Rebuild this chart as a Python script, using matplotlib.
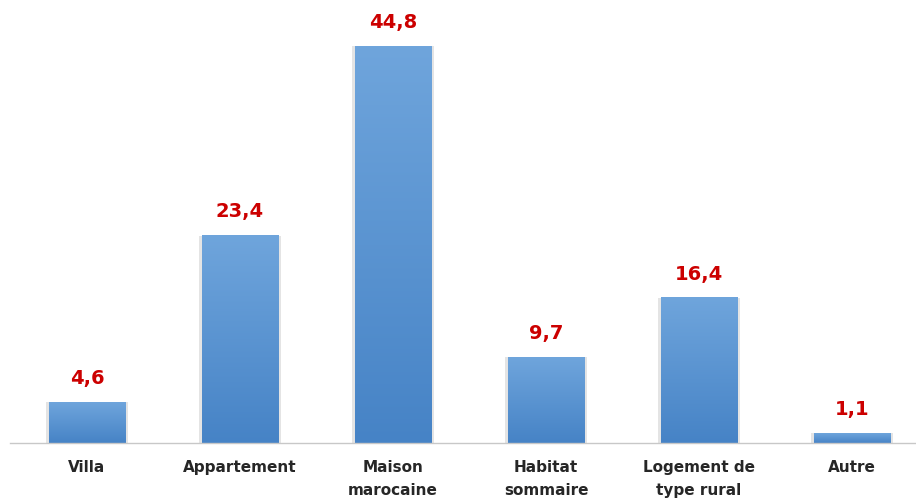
import matplotlib.pyplot as plt
import numpy as np
from matplotlib.colors import LinearSegmentedColormap

categories = ["Villa", "Appartement", "Maison\nmarocaine", "Habitat\nsommaire",
              "Logement de\ntype rural", "Autre"]
values = [4.6, 23.4, 44.8, 9.7, 16.4, 1.1]
value_labels = ["4,6", "23,4", "44,8", "9,7", "16,4", "1,1"]

plt.rcParams['font.family'] = ['DejaVu Sans']

fig = plt.figure(figsize=(9.16, 4.99), dpi=100)
ax = fig.add_axes([10 / 916, 56 / 499, 906 / 916, 443 / 499])

grad = LinearSegmentedColormap.from_list("bar", ["#4683c6", "#6fa5dc"])
gradient = np.linspace(0, 1, 256).reshape(-1, 1)
width = 0.5

x = np.arange(len(categories))
# faint shadow + gradient fill
for xi, v in zip(x, values):
    ax.bar(xi, v, width=width + 0.04, color="#e4e4e4", zorder=1)
    ax.imshow(gradient, cmap=grad, origin="lower", aspect="auto",
              extent=[xi - width / 2, xi + width / 2, 0, v], zorder=2)

for xi, v, lab in zip(x, values, value_labels):
    ax.text(xi, v + 1.6, lab, ha="center", va="bottom", color="#cc0000",
            fontsize=14, fontweight="bold")

ax.set_xlim(-0.503, 5.418)
ax.set_ylim(0, 50)
ax.set_xticks(x)
ax.set_xticklabels(categories, fontsize=11, fontweight="bold", color="#262626",
                   linespacing=1.65)
ax.tick_params(axis="x", length=0, pad=12.5)
ax.set_yticks([])
for s in ["top", "right", "left"]:
    ax.spines[s].set_visible(False)
ax.spines["bottom"].set_color("#c8c8c8")
ax.spines["bottom"].set_linewidth(1)

fig.savefig("out.png", dpi=100)
